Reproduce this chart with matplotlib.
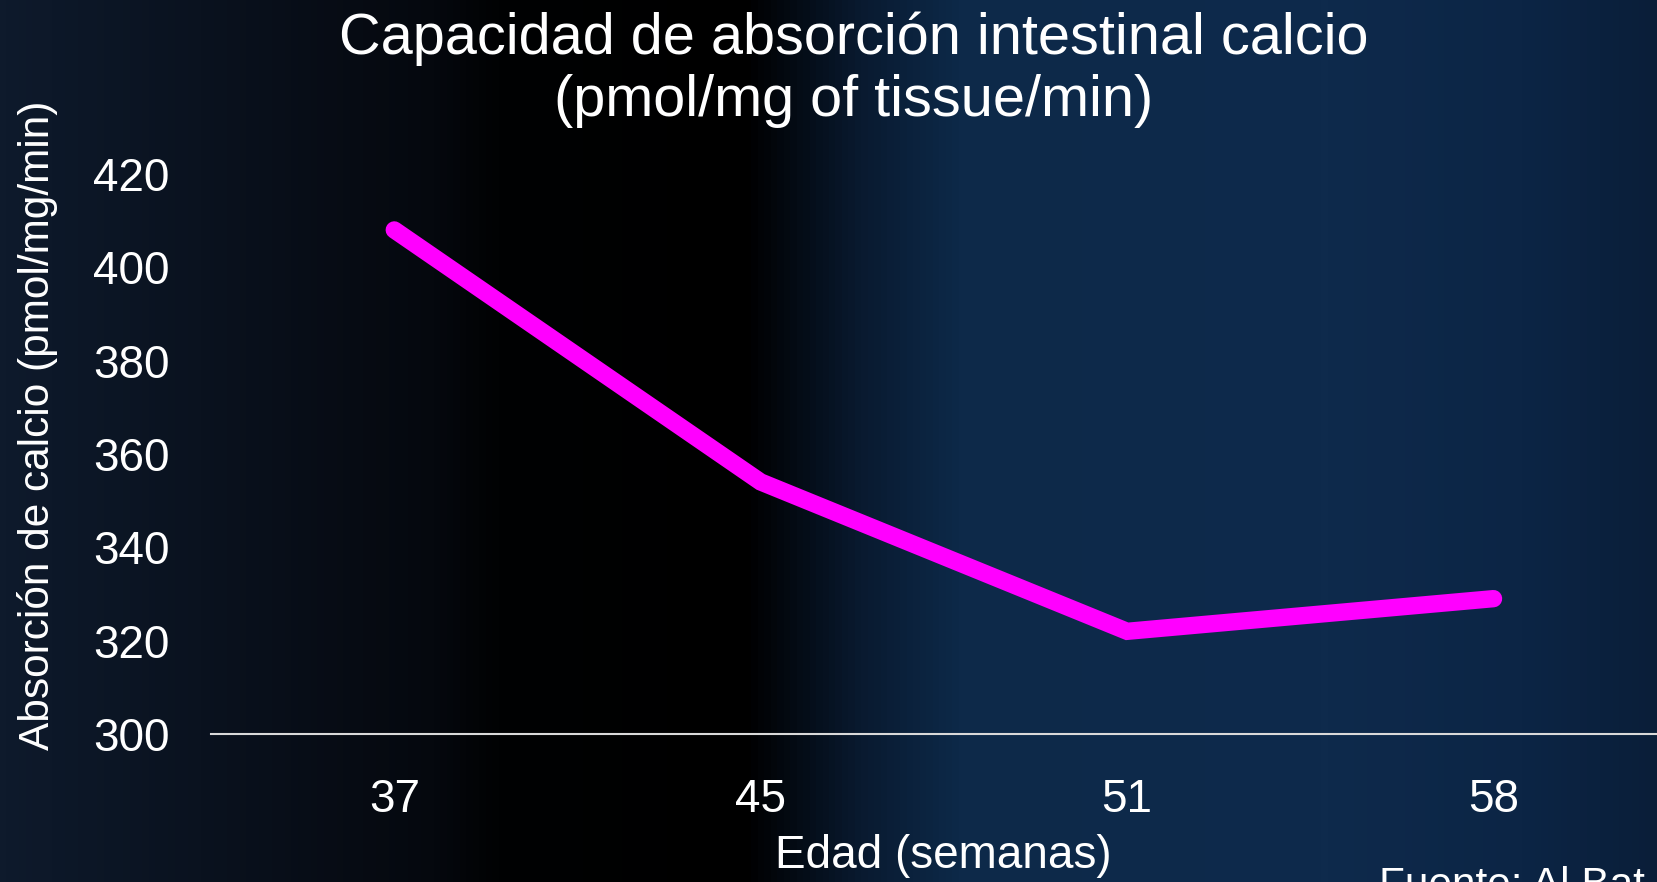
import matplotlib
matplotlib.use("Agg")
import matplotlib.pyplot as plt
from matplotlib.colors import LinearSegmentedColormap
import numpy as np

# data
edades = ["37", "45", "51", "58"]
absorcion = [408, 354, 322, 329]
y_ticks = [300, 320, 340, 360, 380, 400, 420]

plt.rcParams['font.family'] = ['Liberation Sans', 'DejaVu Sans']

fig = plt.figure(figsize=(16.58, 8.82), dpi=100)

# background: dark navy -> black band -> night-sky blue
bg = fig.add_axes([0, 0, 1, 1], zorder=0)
sky = LinearSegmentedColormap.from_list('sky', [
    (0.00, '#0e1a2c'),
    (0.12, '#0a121f'),
    (0.26, '#05080e'),
    (0.30, '#010203'),
    (0.45, '#000000'),
    (0.52, '#091a30'),
    (0.58, '#0d2949'),
    (0.80, '#0e2a4c'),
    (0.92, '#0c2545'),
    (1.00, '#0a1e39'),
])
grad = np.linspace(0, 1, 512).reshape(1, -1)
bg.imshow(grad, cmap=sky, aspect='auto', extent=[0, 1, 0, 1])
bg.set_axis_off()

ax = fig.add_axes([0.1273, 0.1678, 0.884, 0.635], zorder=1)
ax.patch.set_alpha(0)

x = np.arange(len(edades))
ax.plot(x, absorcion, color='#ff00ff', linewidth=12.5, solid_capstyle='round',
        solid_joinstyle='miter', zorder=3)

ax.set_xlim(-0.5, len(edades) - 0.5)
ax.set_ylim(300, 420)
ax.set_xticks(x)
ax.set_xticklabels(edades)
ax.set_yticks(y_ticks)
ax.tick_params(axis='both', length=0, colors='white', labelsize=33)
ax.tick_params(axis='x', pad=32)
ax.tick_params(axis='y', pad=30)

for side in ['top', 'right', 'left']:
    ax.spines[side].set_visible(False)
ax.spines['bottom'].set_color('#d9d9d9')
ax.spines['bottom'].set_linewidth(1.5)

fig.text(0.515, 0.921, 'Capacidad de absorción intestinal calcio\n(pmol/mg of tissue/min)',
         ha='center', va='center', color='white', fontsize=41.5, linespacing=1.2)
fig.text(0.0225, 0.518, 'Absorción de calcio (pmol/mg/min)', rotation=90,
         ha='center', va='center', color='white', fontsize=30.5)
fig.text(0.569, 0.03, 'Edad (semanas)', ha='center', va='center',
         color='white', fontsize=33)
# source note runs off the bottom-right corner, as in the reference
fig.text(0.832, -0.005, 'Fuente: Al Bat', ha='left', va='center',
         color='white', fontsize=30.5)

fig.savefig('out.png', dpi=100)
